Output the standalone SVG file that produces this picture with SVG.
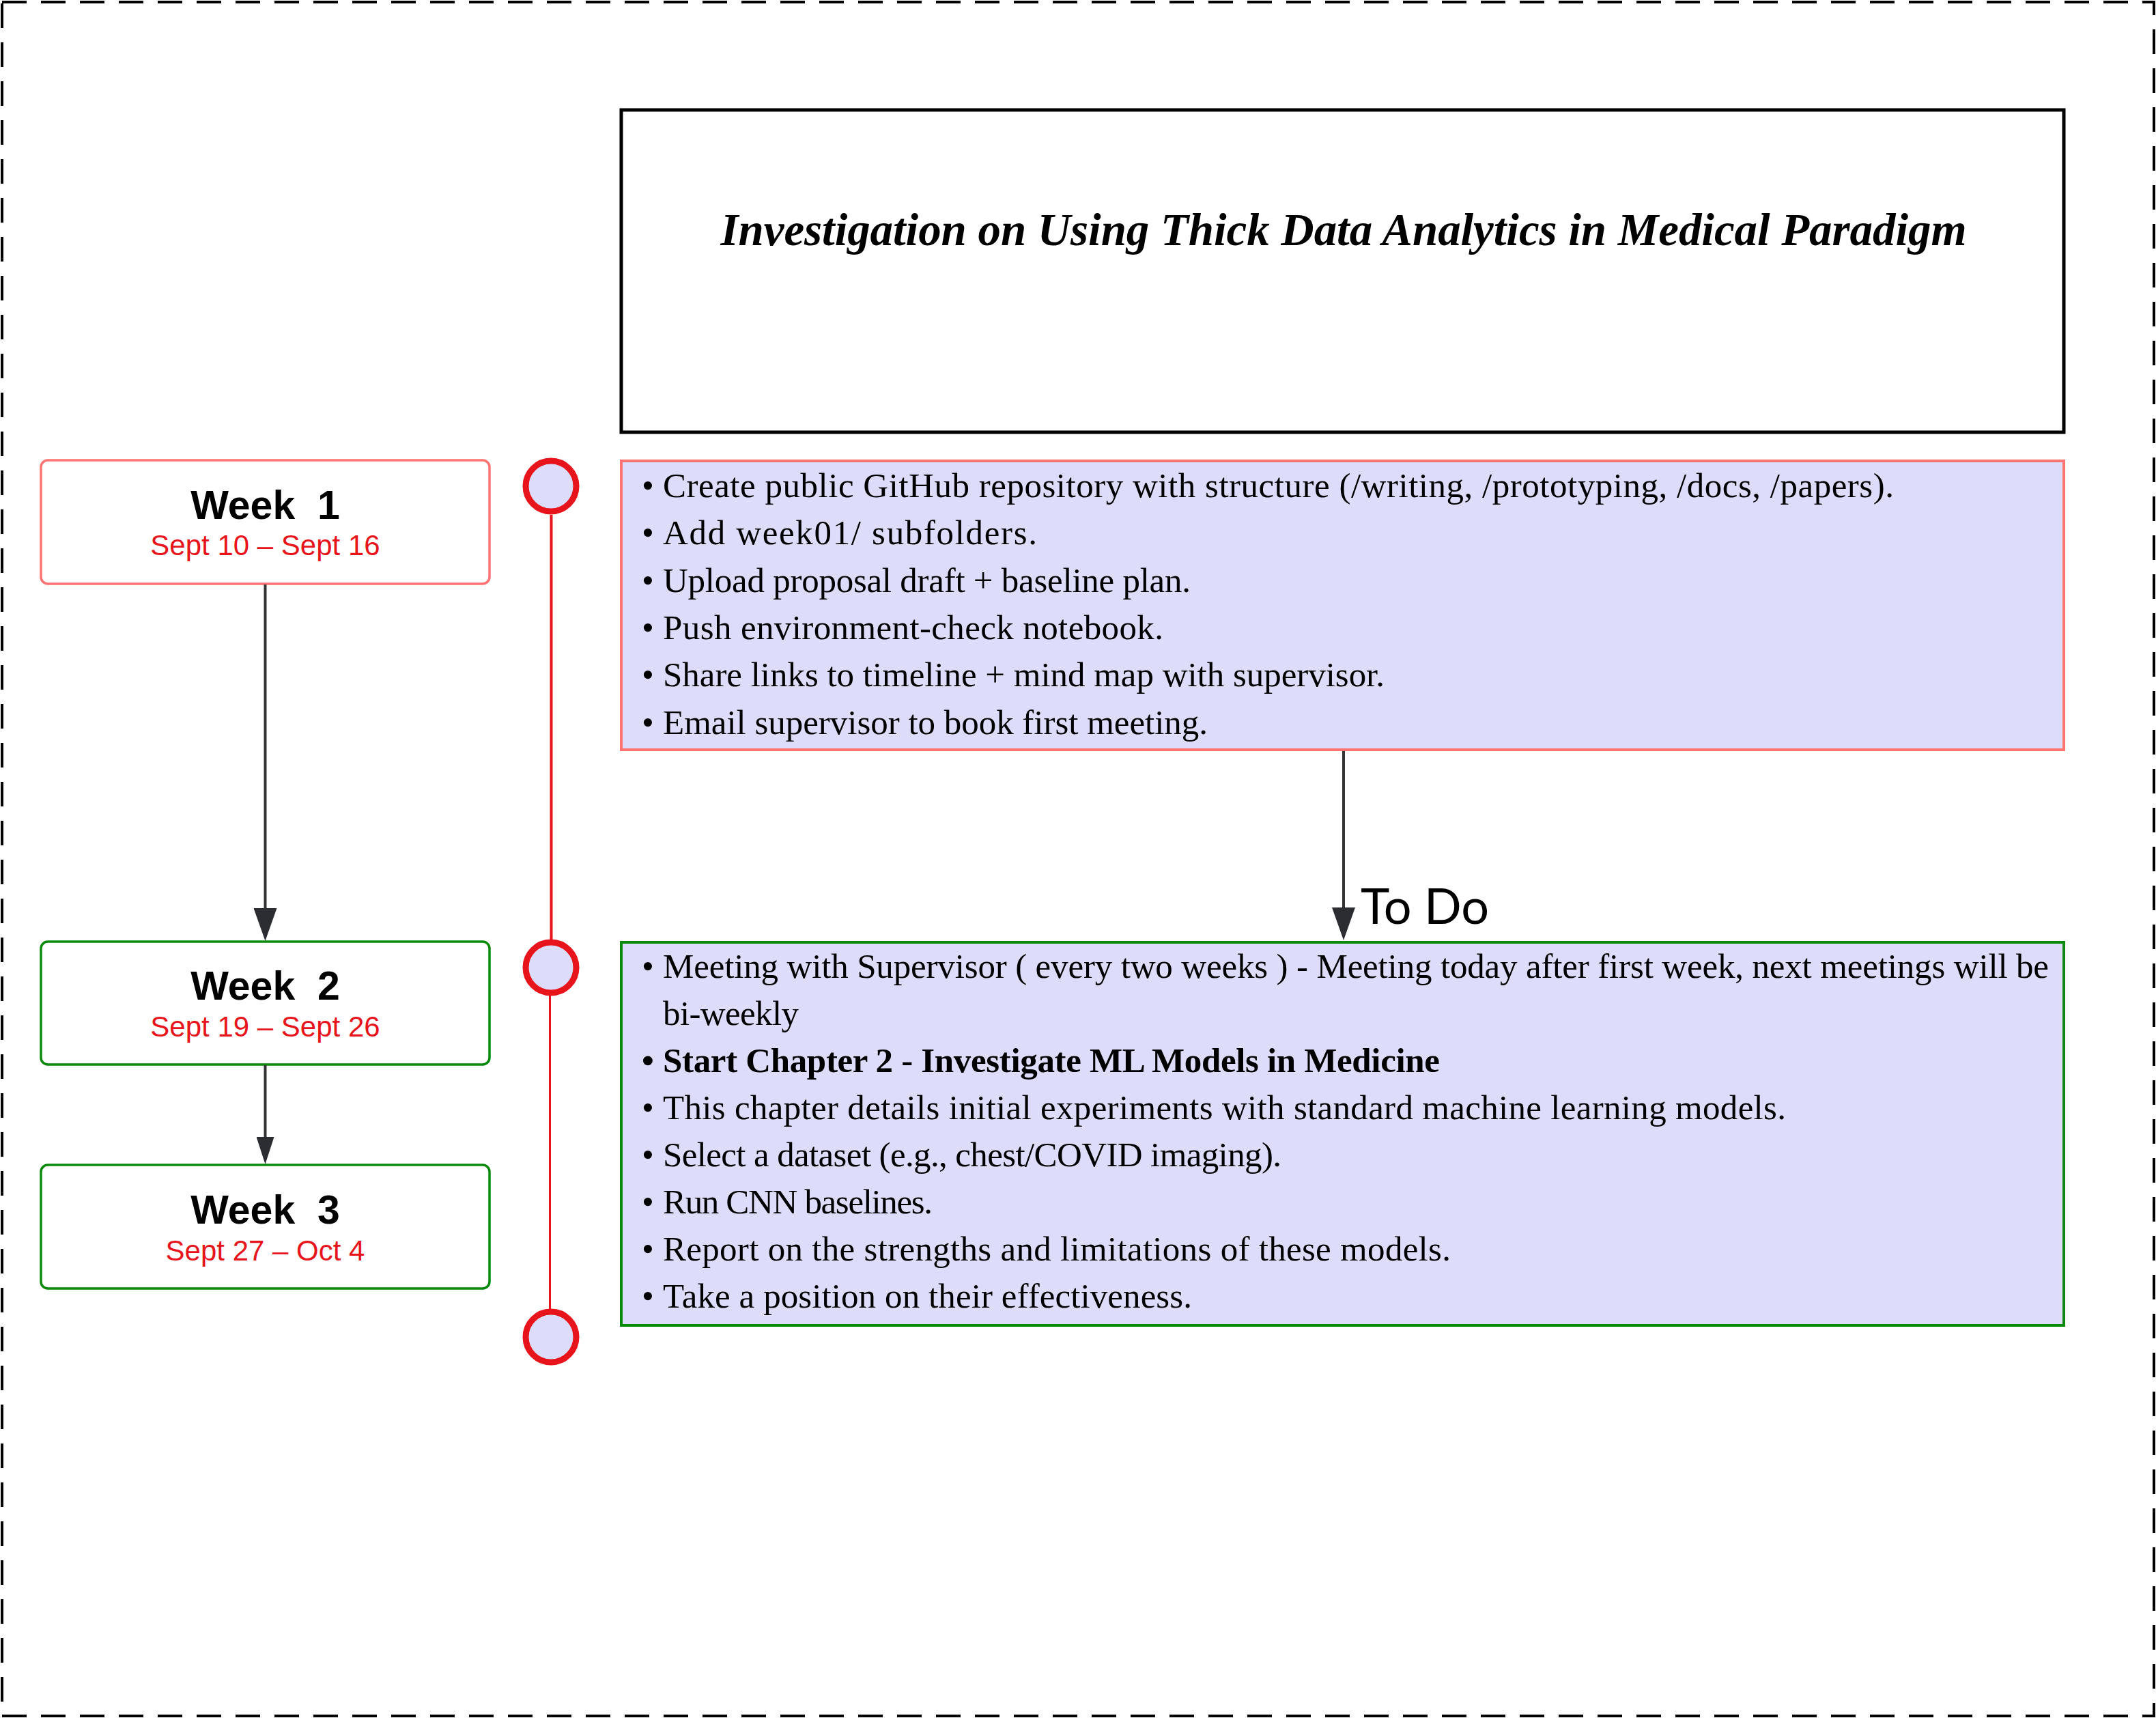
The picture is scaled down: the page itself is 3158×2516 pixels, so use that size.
<svg xmlns="http://www.w3.org/2000/svg" width="3158" height="2516" viewBox="0 0 3158 2516">
<style>
.frame{fill:none;stroke:#000;stroke-width:4;stroke-dasharray:36 21}
.week1{fill:#fff;stroke:#FF7373;stroke-width:3.5}
.weekg{fill:#fff;stroke:#0A8A0A;stroke-width:3.5}
.wt{font-family:"Liberation Sans",Arial,sans-serif;font-weight:bold;font-size:59px;fill:#000;text-anchor:middle;white-space:pre}
.wd{font-family:"Liberation Sans",Arial,sans-serif;font-size:42px;fill:#E8141B;text-anchor:middle}
.title{fill:#fff;stroke:#000;stroke-width:5}
.tt{font-family:"Liberation Serif","Times New Roman",serif;font-weight:bold;font-style:italic;font-size:67px;fill:#000;text-anchor:middle}
.list1{fill:#DDDDFB;stroke:#FF7373;stroke-width:4}
.list2{fill:#DDDDFB;stroke:#0A8A0A;stroke-width:4}
.bt{font-family:"Liberation Serif","Times New Roman",serif;font-size:51px;fill:#000}
.bold{font-weight:bold}
.tl{stroke:#E8141B;fill:none}
.dot{fill:#DDDDFB;stroke:#E8141B;stroke-width:9}
.conn{stroke:#333;stroke-width:4;fill:none}
.lbl{font-family:Lato,"Liberation Sans",sans-serif;font-size:72px;fill:#000}
</style>
<defs>
<marker id="arrowA" viewBox="0 0 48 34" refX="0" refY="17" markerWidth="48" markerHeight="34" markerUnits="userSpaceOnUse" orient="auto">
<path d="M0,0 L48,17 L0,34 z" fill="#2B2D33"/>
</marker>
<marker id="arrowB" viewBox="0 0 40 26" refX="0" refY="13" markerWidth="40" markerHeight="26" markerUnits="userSpaceOnUse" orient="auto">
<path d="M0,0 L40,13 L0,26 z" fill="#2B2D33"/>
</marker>
</defs>

<rect id="frame" class="frame" x="3" y="3" width="3152" height="2510"/>

<g id="title">
<rect class="title" x="910" y="161" width="2113" height="472"/>
<text class="tt" x="1968" y="359" textLength="1825">Investigation on Using Thick Data Analytics in Medical Paradigm</text>
</g>

<g id="week1">
<rect class="week1" x="60" y="674" width="657" height="181" rx="10"/>
<text class="wt" x="388.5" y="760">Week  1</text>
<text class="wd" x="388.5" y="813">Sept 10 – Sept 16</text>
</g>

<g id="week2">
<rect class="weekg" x="60" y="1379" width="657" height="180" rx="10"/>
<text class="wt" x="388.5" y="1464">Week  2</text>
<text class="wd" x="388.5" y="1518">Sept 19 – Sept 26</text>
</g>

<g id="week3">
<rect class="weekg" x="60" y="1706" width="657" height="181" rx="10"/>
<text class="wt" x="388.5" y="1792">Week  3</text>
<text class="wd" x="388.5" y="1846">Sept 27 – Oct 4</text>
</g>

<g id="timeline">
<line class="tl" x1="807.5" y1="754" x2="807.5" y2="1376" stroke-width="4"/>
<line class="tl" x1="805.5" y1="1458" x2="805.5" y2="1917" stroke-width="3"/>
<circle class="dot" cx="807" cy="712" r="37"/>
<circle class="dot" cx="807" cy="1417" r="37"/>
<circle class="dot" cx="807" cy="1958" r="37"/>
</g>

<g id="tasks-week1">
<rect class="list1" x="910" y="675" width="2113" height="423"/>
<text class="bt" y="728"><tspan x="940">•</tspan><tspan x="971" textLength="1803">Create public GitHub repository with structure (/writing, /prototyping, /docs, /papers).</tspan></text>
<text class="bt" y="797"><tspan x="940">•</tspan><tspan x="971" textLength="548">Add week01/ subfolders.</tspan></text>
<text class="bt" y="867"><tspan x="940">•</tspan><tspan x="971" textLength="773">Upload proposal draft + baseline plan.</tspan></text>
<text class="bt" y="936"><tspan x="940">•</tspan><tspan x="971" textLength="733">Push environment-check notebook.</tspan></text>
<text class="bt" y="1005"><tspan x="940">•</tspan><tspan x="971" textLength="1057">Share links to timeline + mind map with supervisor.</tspan></text>
<text class="bt" y="1075"><tspan x="940">•</tspan><tspan x="971" textLength="798">Email supervisor to book first meeting.</tspan></text>
</g>

<g id="tasks-week2">
<rect class="list2" x="910" y="1380" width="2113" height="561"/>
<text class="bt" y="1432"><tspan x="940">•</tspan><tspan x="971" textLength="2030">Meeting with Supervisor ( every two weeks ) - Meeting today after first week, next meetings will be</tspan></text>
<text class="bt" y="1501"><tspan x="971" textLength="199">bi-weekly</tspan></text>
<text class="bt bold" y="1570"><tspan x="940">•</tspan><tspan x="971" textLength="1138">Start Chapter 2 - Investigate ML Models in Medicine</tspan></text>
<text class="bt" y="1639"><tspan x="940">•</tspan><tspan x="971" textLength="1645">This chapter details initial experiments with standard machine learning models.</tspan></text>
<text class="bt" y="1708"><tspan x="940">•</tspan><tspan x="971" textLength="906">Select a dataset (e.g., chest/COVID imaging).</tspan></text>
<text class="bt" y="1777"><tspan x="940">•</tspan><tspan x="971" textLength="395">Run CNN baselines.</tspan></text>
<text class="bt" y="1846"><tspan x="940">•</tspan><tspan x="971" textLength="1154">Report on the strengths and limitations of these models.</tspan></text>
<text class="bt" y="1915"><tspan x="940">•</tspan><tspan x="971" textLength="775">Take a position on their effectiveness.</tspan></text>
</g>

<g id="connectors">
<path class="conn" d="M388.5,856 L388.5,1330" marker-end="url(#arrowA)"/>
<path class="conn" d="M388.5,1560 L388.5,1665" marker-end="url(#arrowB)"/>
<path class="conn" d="M1968,1100 L1968,1329" marker-end="url(#arrowA)"/>
<text class="lbl" x="1993" y="1353">To Do</text>
</g>
</svg>
